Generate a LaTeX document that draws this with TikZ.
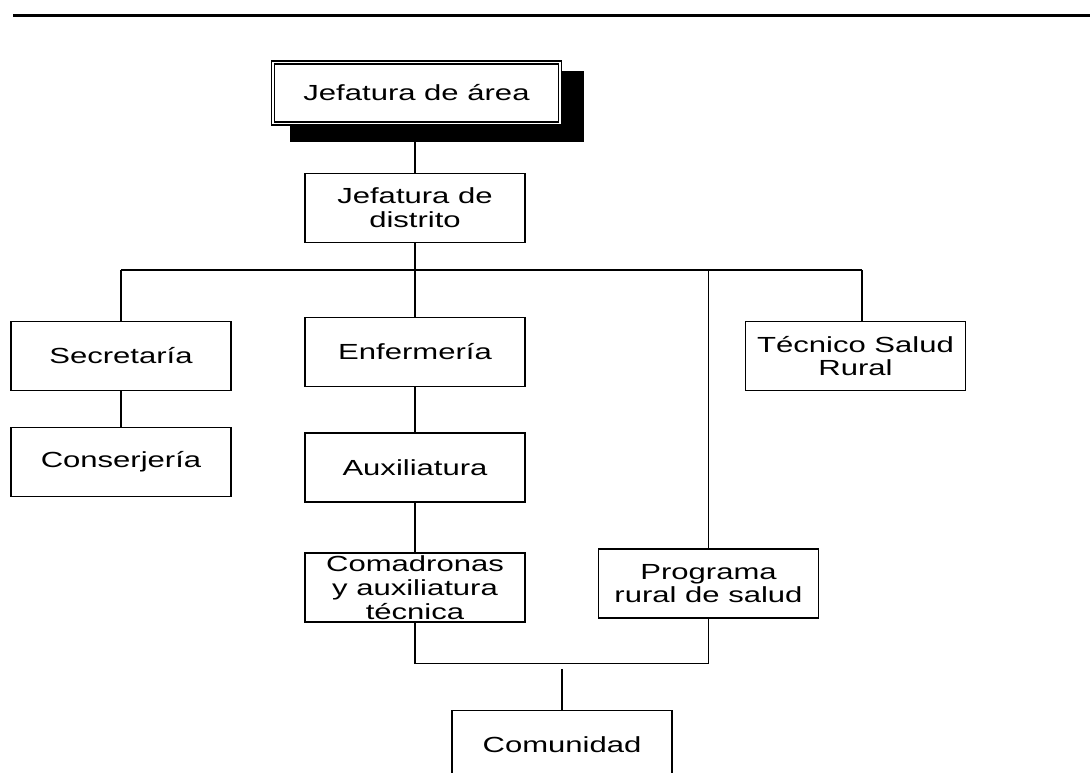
\documentclass[tikz,border=0pt]{standalone}
\usepackage{fontspec}
\setmainfont[FakeStretch=1.42]{Liberation Sans}
\begin{document}
\begin{tikzpicture}[x=0.75pt, y=-0.75pt,
  font=\fontsize{16.4}{17.8}\selectfont,
  unit/.style={draw, line width=0.8pt, fill=white, align=center, inner sep=0pt,
    minimum width=165pt, minimum height=51.75pt},
  link/.style={line width=0.8pt}]
\useasboundingbox (0,0) rectangle (1090,773);
\clip (0,0) rectangle (1090,773);

% header rule
\draw[line width=1.8pt] (13,15.5) -- (1090,15.5);

% head office: shadow block and double-framed box
\fill[black] (290,71) rectangle (584,142);
\node[draw, line width=0.8pt, fill=white, inner sep=0pt,
  minimum width=217.5pt, minimum height=48pt] (area) at (416.5,93) {Jefatura de área};
\draw[line width=1pt] ([shift={(3.5,3.5)}]area.north west) rectangle ([shift={(-3.5,-3.5)}]area.south east);

% units
\node[unit] (dist) at (415,208) {Jefatura de\\distrito};
\node[unit] (secr) at (121,356) {Secretaría};
\node[unit] (cons) at (121,462) {Conserjería};
\node[unit] (enf)  at (415,352) {Enfermería};
\node[unit] (aux)  at (415,467.5) {Auxiliatura};
\node[unit] (coma) at (415,587.5) {Comadronas\\y auxiliatura\\técnica};
\node[unit] (prog) at (708.5,583.5) {Programa\\rural de salud};
\node[unit] (tec)  at (855.5,356) {Técnico Salud\\Rural};
\node[unit] (com)  at (562,745) {Comunidad};

% branch bus
\coordinate (busL) at (121,270);
\coordinate (busR) at (862,270);
\coordinate (busC) at (415,270);
\coordinate (busP) at (708.5,270);
\coordinate (join) at (562,663.5);
\coordinate (stub) at (562,669);

\draw[link] (dist.north) -- (dist.north |- area.south);
\draw[link] (dist.south) -- (busC);
\draw[link] (busL) -- (busR);
\draw[link] (busL) -- (secr.north);
\draw[link] (busC) -- (enf.north);
\draw[link] (busP) -- (prog.north);
\draw[link] (busR) -- (busR |- tec.north);
\draw[link] (secr.south) -- (cons.north);
\draw[link] (enf.south) -- (aux.north);
\draw[link] (aux.south) -- (coma.north);
\draw[link] (coma.south) -- (coma.south |- join) -- (prog.south |- join) -- (prog.south);
\draw[link] (stub) -- (com.north);
\end{tikzpicture}
\end{document}
